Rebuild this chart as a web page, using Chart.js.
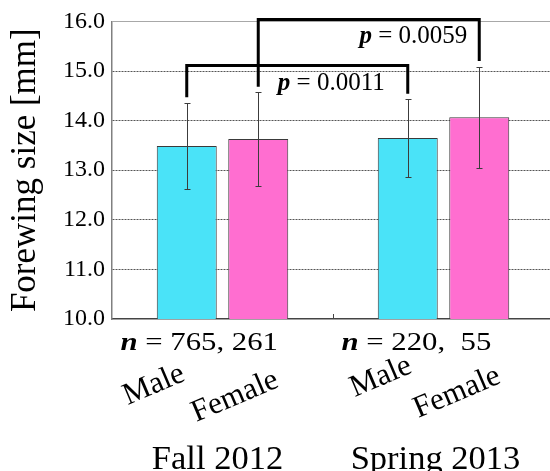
<!DOCTYPE html>
<html><head><meta charset="utf-8">
<script src="https://cdn.jsdelivr.net/npm/chart.js@4/dist/chart.umd.min.js"></script>
<style>
html,body{margin:0;padding:0;overflow:hidden;background:#fff;width:550px;height:471px}
#wrap{position:absolute;left:0;top:0;width:556px;height:471px}
</style>
</head><body><div id="wrap"><canvas id="c"></canvas></div>
<script>
// ---- data ----
const categories = ['Fall 2012', 'Spring 2013'];
const sexes = ['Male', 'Female'];
const maleMean = [13.49, 13.65];
const femaleMean = [13.63, 14.07];
const maleSD = [0.87, 0.78];
const femaleSD = [0.94, 1.02];
const sampleSizes = ['765, 261', '220,  55'];
const yTicks = [10, 11, 12, 13, 14, 15, 16];
const pValues = ['0.0011', '0.0059'];
const bracketSeries = [0, 1];
const bracketLevel = [15.11, 16.04];

// ---- style ----
const SERIF = '"Liberation Serif", "Times New Roman", serif';
const pTextDx = [-23, -12];
const sexLabelDx = [[-59, -62], [-53, -61]];
const sexLabelDy = [[86, 103], [78, 99]];
const seasonDx = [-5, -8];

function drawParts(ctx, parts, x0, y0, align, sx, rot) {
  ctx.save();
  ctx.translate(x0, y0);
  if (rot) ctx.rotate(rot);
  ctx.scale(sx, 1);
  let w = 0;
  parts.forEach(p => { ctx.font = p.f; w += ctx.measureText(p.t).width; });
  let cx = align === 'right' ? -w : align === 'center' ? -w / 2 : 0;
  ctx.textAlign = 'left'; ctx.textBaseline = 'alphabetic'; ctx.fillStyle = '#000';
  parts.forEach(p => { ctx.font = p.f; ctx.fillText(p.t, cx, 0); cx += ctx.measureText(p.t).width; });
  ctx.restore();
}

const annot = {
  id: 'annot',
  afterDatasetsDraw(chart) {
    const ctx = chart.ctx, ys = chart.scales.y;
    chart.data.datasets.forEach((ds, di) => {
      chart.getDatasetMeta(di).data.forEach((bar, i) => {
        const m = ds.data[i], s = ds.sd[i];
        const bx = Math.round(bar.x) + 0.5;
        const yt = Math.round(ys.getPixelForValue(m + s)) + 0.5;
        const yb = Math.round(ys.getPixelForValue(m - s)) + 0.5;
        ctx.save();
        ctx.strokeStyle = '#3c3c3c'; ctx.lineWidth = 1;
        ctx.beginPath();
        ctx.moveTo(bx, yt); ctx.lineTo(bx, yb);
        ctx.moveTo(bx - 3, yt); ctx.lineTo(bx + 3, yt);
        ctx.moveTo(bx - 3, yb); ctx.lineTo(bx + 3, yb);
        ctx.stroke();
        ctx.restore();
      });
    });
  },
  afterDraw(chart) {
    const ctx = chart.ctx, xs = chart.scales.x, ys = chart.scales.y, area = chart.chartArea;
    const mid = Math.round((xs.getPixelForValue(0) + xs.getPixelForValue(1)) / 2) + 0.5;
    ctx.save();
    ctx.strokeStyle = '#444'; ctx.lineWidth = 1;
    ctx.beginPath(); ctx.moveTo(mid, area.bottom - 5); ctx.lineTo(mid, area.bottom); ctx.stroke();
    ctx.restore();

    bracketSeries.forEach((di, k) => {
      const ds = chart.data.datasets[di];
      const meta = chart.getDatasetMeta(di);
      const b0 = meta.data[0], b1 = meta.data[1];
      const yTop = ys.getPixelForValue(bracketLevel[k]);
      const y0 = ys.getPixelForValue(ds.data[0] + ds.sd[0] + 0.11);
      const y1 = ys.getPixelForValue(ds.data[1] + ds.sd[1] + 0.11);
      ctx.save();
      ctx.strokeStyle = '#000'; ctx.lineWidth = 3; ctx.lineJoin = 'miter'; ctx.lineCap = 'butt';
      ctx.beginPath();
      ctx.moveTo(b0.x, y0); ctx.lineTo(b0.x, yTop); ctx.lineTo(b1.x, yTop); ctx.lineTo(b1.x, y1);
      ctx.stroke();
      ctx.restore();
      drawParts(ctx, [
        { t: 'p', f: 'italic bold 25px ' + SERIF },
        { t: ' = ' + pValues[k], f: '25px ' + SERIF }
      ], b1.x + pTextDx[k], yTop + 24, 'right', 1, 0);
    });

    categories.forEach((cat, i) => {
      const cx = xs.getPixelForValue(i);
      drawParts(ctx, [
        { t: 'n', f: 'italic bold 25px ' + SERIF },
        { t: ' = ' + sampleSizes[i], f: '25px ' + SERIF }
      ], cx - 102, area.bottom + 31, 'left', 1.23, 0);
      chart.data.datasets.forEach((ds, di) => {
        const bar = chart.getDatasetMeta(di).data[i];
        drawParts(ctx, [{ t: sexes[di], f: '31px ' + SERIF }],
          bar.x + sexLabelDx[i][di], area.bottom + sexLabelDy[i][di], 'left', 1, -23 * Math.PI / 180);
      });
      drawParts(ctx, [{ t: cat, f: '34.5px ' + SERIF }], cx + seasonDx[i], area.bottom + 150, 'center', 1, 0);
    });
  }
};

new Chart(document.getElementById('c'), {
  type: 'bar',
  data: {
    labels: categories,
    datasets: [
      { label: sexes[0], data: maleMean, sd: maleSD, backgroundColor: '#4ae3f8', borderColor: '#3a3a3a',
        borderWidth: 1, categoryPercentage: 0.647, barPercentage: 0.839 },
      { label: sexes[1], data: femaleMean, sd: femaleSD, backgroundColor: '#ff6ed0', borderColor: '#3a3a3a',
        borderWidth: 1, categoryPercentage: 0.647, barPercentage: 0.839 }
    ]
  },
  options: {
    responsive: true, maintainAspectRatio: false, animation: false, devicePixelRatio: 1,
    layout: { padding: { left: 0, right: 2, top: 20.5, bottom: 0 } },
    plugins: { legend: { display: false }, tooltip: { enabled: false } },
    scales: {
      x: {
        grid: { display: false }, ticks: { display: false },
        border: { color: '#444', width: 1.5 },
        afterFit(s) { s.height = 152; }
      },
      y: {
        min: 10, max: 16,
        afterBuildTicks(s) { s.ticks = yTicks.map(v => ({ value: v })); },
        ticks: { callback: v => Number(v).toFixed(1), font: { family: SERIF, size: 24 }, color: '#000', padding: 7 },
        grid: {
          drawTicks: false, lineWidth: 1,
          color: c => (c.tick && c.tick.value === 16) ? '#a8a8a8' : (c.tick && c.tick.value === 10) ? 'rgba(0,0,0,0)' : '#555'
        },
        border: { color: '#808080', width: 1.5, dash: c => (c.tick && c.tick.value !== 16) ? [2, 1] : [] },
        title: { display: true, text: 'Forewing size [mm]', font: { family: SERIF, size: 35 }, color: '#000', padding: { top: 5, bottom: 0 } },
        afterFit(s) { s.width = 112; }
      }
    }
  },
  plugins: [annot]
});
</script>
</body></html>
